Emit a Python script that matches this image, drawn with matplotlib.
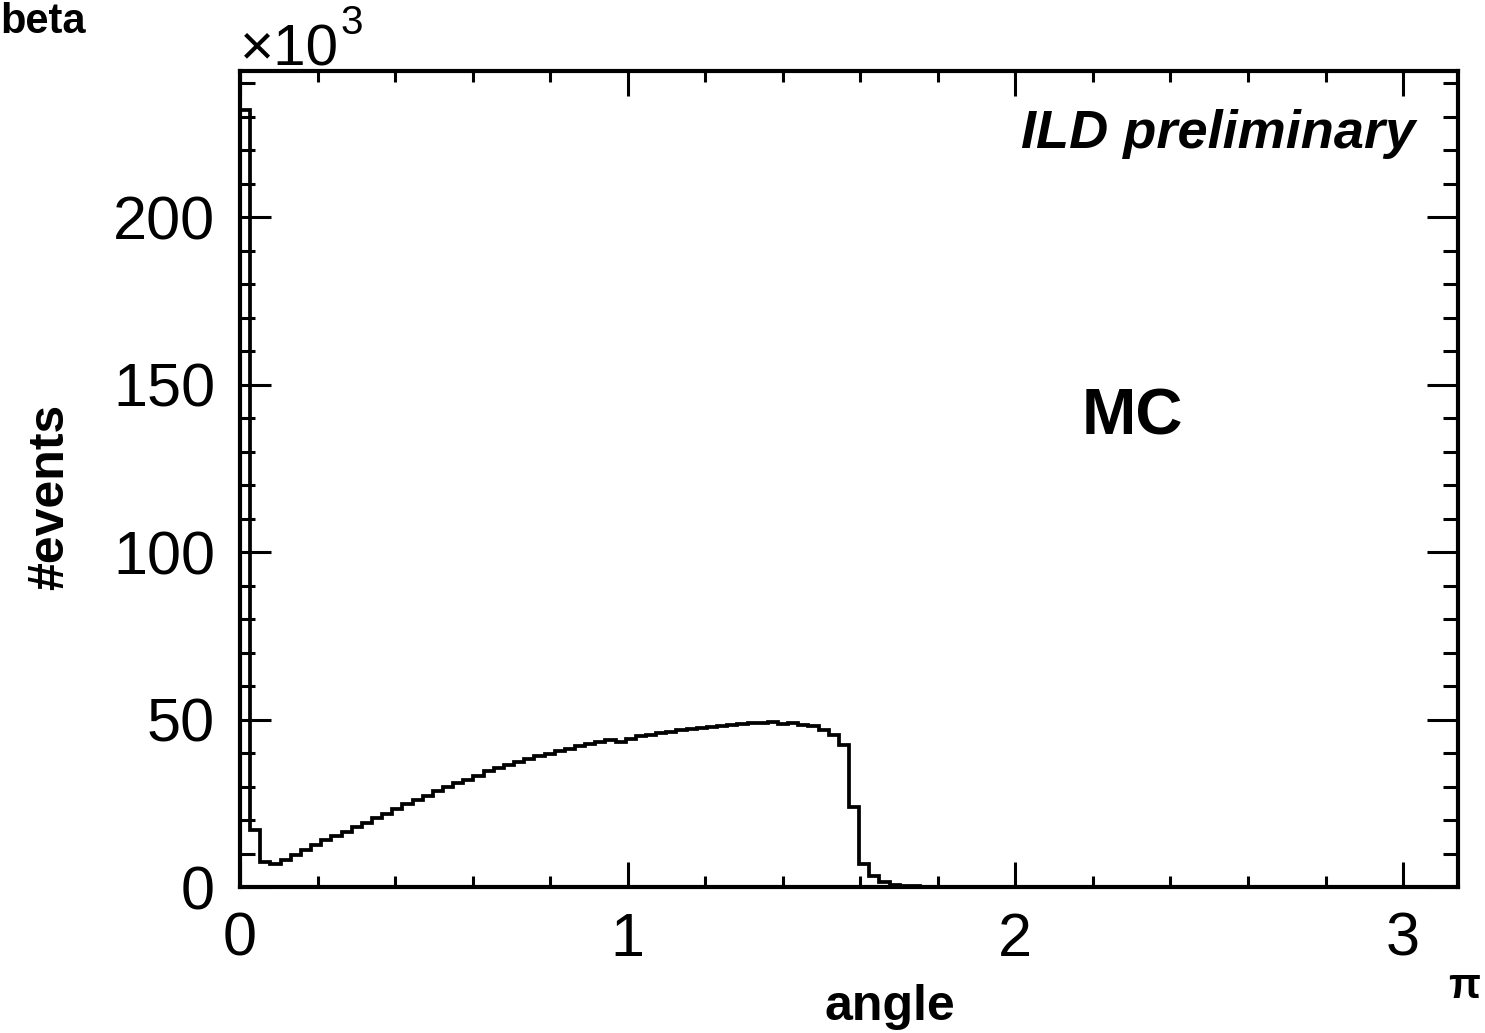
import matplotlib
matplotlib.use('Agg')
import matplotlib.pyplot as plt
import numpy as np
from matplotlib.ticker import MultipleLocator

plt.rcParams['font.family'] = ['Liberation Sans', 'DejaVu Sans']

# histogram: 120 bins over [0, pi], contents in units of 10^3 events
n_bins = 120
x_lo = 0.0
x_hi = np.pi
events_k = [
    232, 17, 7.5, 7.0, 8.1, 9.6, 11.0, 12.4, 14.0, 15.3,
    16.5, 18.0, 19.2, 20.5, 21.9, 23.4, 24.8, 26.0, 27.3, 28.7,
    29.9, 31.1, 32.0, 33.2, 34.5, 35.6, 36.5, 37.4, 38.3, 39.0,
    39.8, 40.5, 41.3, 42.0, 42.6, 43.2, 43.8, 43.2, 44.3, 45.0,
    45.4, 45.9, 46.3, 46.8, 47.1, 47.6, 47.9, 48.2, 48.4, 48.6,
    48.9, 49.0, 49.3, 48.8, 49.0, 48.5, 48.0, 47.0, 45.5, 42.5,
    24.0, 7.0, 3.3, 1.5, 0.7, 0.35, 0.2, 0.1, 0.05, 0.03,
]
events_k = events_k + [0.0] * (n_bins - len(events_k))

x_ticks = [0, 1, 2, 3]
y_ticks = [0, 50, 100, 150, 200]

edges = np.linspace(x_lo, x_hi, n_bins + 1)

fig = plt.figure(figsize=(14.85, 10.33), dpi=100)
ax = fig.add_axes([240/1485, 1-887/1033, (1458-240)/1485, (887-71)/1033])

ax.stairs(events_k, edges, color='black', lw=2.7, baseline=0)

ax.set_xlim(x_lo, x_hi)
ax.set_ylim(0, 1.05 * max(events_k))

ax.set_xticks(x_ticks)
ax.set_yticks(y_ticks)
ax.xaxis.set_minor_locator(MultipleLocator(0.2))
ax.yaxis.set_minor_locator(MultipleLocator(10))

for s in ax.spines.values():
    s.set_linewidth(3.0)

ax.tick_params(which='both', direction='in', top=True, right=True, width=2.2,
               labelsize=44)
ax.tick_params(axis='x', which='major', length=18, pad=18)
ax.tick_params(axis='x', which='minor', length=8)
ax.tick_params(axis='y', which='major', length=22, pad=18)
ax.tick_params(axis='y', which='minor', length=11)

W, H = 1485, 1033
fig.text(0/W, 1-33/H, 'beta', fontsize=30, fontweight='bold', va='baseline', ha='left')
fig.text(240/W, 1-66/H, '\u00d710', fontsize=42, va='baseline', ha='left')
fig.text(340/W, 1-34/H, '3', fontsize=29, va='baseline', ha='left')
fig.text(1415/W, 1-148/H, 'ILD preliminary', fontsize=39, fontweight='bold',
         style='italic', va='baseline', ha='right')
fig.text(1082/W, 1-434/H, 'MC', fontsize=47, fontweight='bold', va='baseline', ha='left')
fig.text(50/W, 1-497/H, '#events', fontsize=36, fontweight='bold', rotation=90,
         va='center', ha='center')
fig.text(890/W, 1-1020/H, 'angle', fontsize=36, fontweight='bold', va='baseline', ha='center')
fig.text(1464/W, 1-998/H, '\u03c0', fontsize=30, fontweight='bold', va='baseline', ha='center')

fig.savefig('out.png', dpi=100)
